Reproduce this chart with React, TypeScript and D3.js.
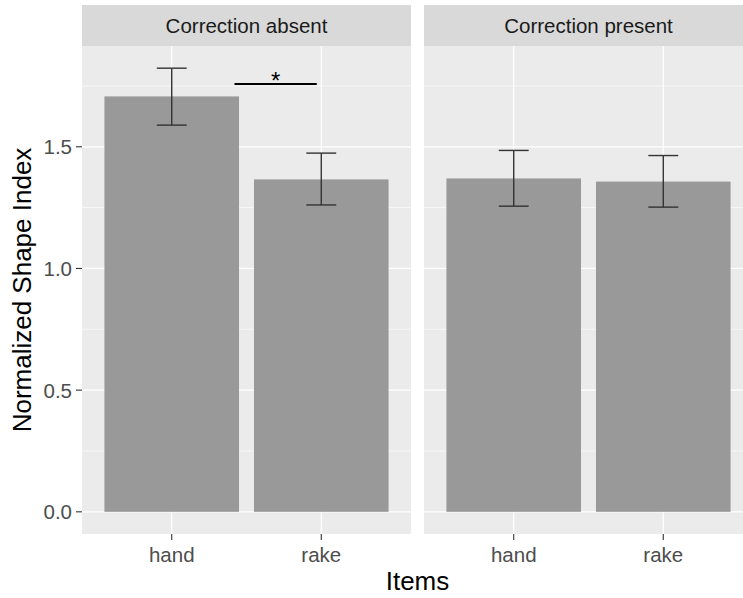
import React from 'react'
import * as d3 from 'd3'

// data
const conditions = ['Correction absent', 'Correction present']
const items = ['hand', 'rake']
const absentMean = [1.707, 1.366]
const absentLower = [1.589, 1.261]
const absentUpper = [1.823, 1.474]
const presentMean = [1.37, 1.357]
const presentLower = [1.256, 1.252]
const presentUpper = [1.485, 1.464]
const yTicks = [0, 0.5, 1.0, 1.5]
const yMinor = [0.25, 0.75, 1.25, 1.75]
const sigFrom = 1.42
const sigTo = 1.97
const sigLevel = 1.758
const sigLabel = '*'

const series = [
  { mean: absentMean, lower: absentLower, upper: absentUpper },
  { mean: presentMean, lower: presentLower, upper: presentUpper },
]

const W = 743
const H = 598
const panelTop = 46
const panelBottom = 534
const stripTop = 5
const panelW = 329
const panelLefts = [82, 424]
const font = '"Liberation Sans", Arial, sans-serif'

const App = () => {
  const yMax = d3.max([...absentUpper, ...presentUpper]) as number
  const pad = yMax * 0.05
  const y = d3.scaleLinear().domain([-pad, yMax + pad]).range([panelBottom, panelTop])

  return (
    <svg
      width={W}
      height={H}
      style={{ position: 'absolute', left: 0, top: 0, background: 'white' }}
      fontFamily={font}
    >
      {conditions.map((cond, p) => {
        const x0 = panelLefts[p]
        const x = d3.scaleLinear().domain([0.4, 2.6]).range([x0, x0 + panelW])
        const s = series[p]
        const barW = x(0.9) - x(0)
        const whisk = x(0.2) - x(0)
        return (
          <g key={cond}>
            {/* strip */}
            <rect x={x0} y={stripTop} width={panelW} height={panelTop - stripTop} fill="#D9D9D9" />
            <text
              x={x0 + panelW / 2}
              y={(stripTop + panelTop) / 2}
              textAnchor="middle"
              dominantBaseline="central"
              fontSize={20.5}
              fill="#1A1A1A"
            >
              {cond}
            </text>
            {/* panel */}
            <rect x={x0} y={panelTop} width={panelW} height={panelBottom - panelTop} fill="#EBEBEB" />
            {yMinor.map((v) => (
              <line key={'m' + v} x1={x0} x2={x0 + panelW} y1={y(v)} y2={y(v)} stroke="white" strokeWidth={0.6} />
            ))}
            {yTicks.map((v) => (
              <line key={'M' + v} x1={x0} x2={x0 + panelW} y1={y(v)} y2={y(v)} stroke="white" strokeWidth={1.2} />
            ))}
            {items.map((it, i) => (
              <line key={'v' + it} x1={x(i + 1)} x2={x(i + 1)} y1={panelTop} y2={panelBottom} stroke="white" strokeWidth={1.2} />
            ))}
            {/* bars */}
            {items.map((it, i) => (
              <rect
                key={'b' + it}
                x={x(i + 1) - barW / 2}
                y={y(s.mean[i])}
                width={barW}
                height={y(0) - y(s.mean[i])}
                fill="#999999"
              />
            ))}
            {/* error bars */}
            {items.map((it, i) => {
              const cx = x(i + 1)
              return (
                <g key={'e' + it} stroke="#333333" strokeWidth={1.4}>
                  <line x1={cx} x2={cx} y1={y(s.lower[i])} y2={y(s.upper[i])} />
                  <line x1={cx - whisk / 2} x2={cx + whisk / 2} y1={y(s.upper[i])} y2={y(s.upper[i])} />
                  <line x1={cx - whisk / 2} x2={cx + whisk / 2} y1={y(s.lower[i])} y2={y(s.lower[i])} />
                </g>
              )
            })}
            {/* x axis */}
            {items.map((it, i) => (
              <g key={'x' + it}>
                <line x1={x(i + 1)} x2={x(i + 1)} y1={panelBottom} y2={panelBottom + 6} stroke="#333333" strokeWidth={1.1} />
                <text x={x(i + 1)} y={562} textAnchor="middle" fontSize={20.5} fill="#4D4D4D">
                  {it}
                </text>
              </g>
            ))}
            {p === 0 && (
              <g>
                <line x1={x(sigFrom)} x2={x(sigTo)} y1={y(sigLevel)} y2={y(sigLevel)} stroke="black" strokeWidth={2} />
                <text
                  x={x((sigFrom + sigTo) / 2)}
                  y={y(sigLevel) + 5}
                  textAnchor="middle"
                  fontSize={24}
                  fill="black"
                >
                  {sigLabel}
                </text>
              </g>
            )}
          </g>
        )
      })}
      {/* y axis */}
      {yTicks.map((v) => (
        <g key={'yt' + v}>
          <line x1={76} x2={82} y1={y(v)} y2={y(v)} stroke="#333333" strokeWidth={1.1} />
          <text x={72} y={y(v)} textAnchor="end" dominantBaseline="central" fontSize={20.5} fill="#4D4D4D">
            {d3.format('.1f')(v)}
          </text>
        </g>
      ))}
      <text
        transform={`translate(22, ${(panelTop + panelBottom) / 2}) rotate(-90)`}
        textAnchor="middle"
        dominantBaseline="central"
        fontSize={26}
        fill="black"
      >
        Normalized Shape Index
      </text>
      <text x={(panelLefts[0] + panelLefts[1] + panelW) / 2} y={590} textAnchor="middle" fontSize={26} fill="black">
        Items
      </text>
    </svg>
  )
}

export default App
